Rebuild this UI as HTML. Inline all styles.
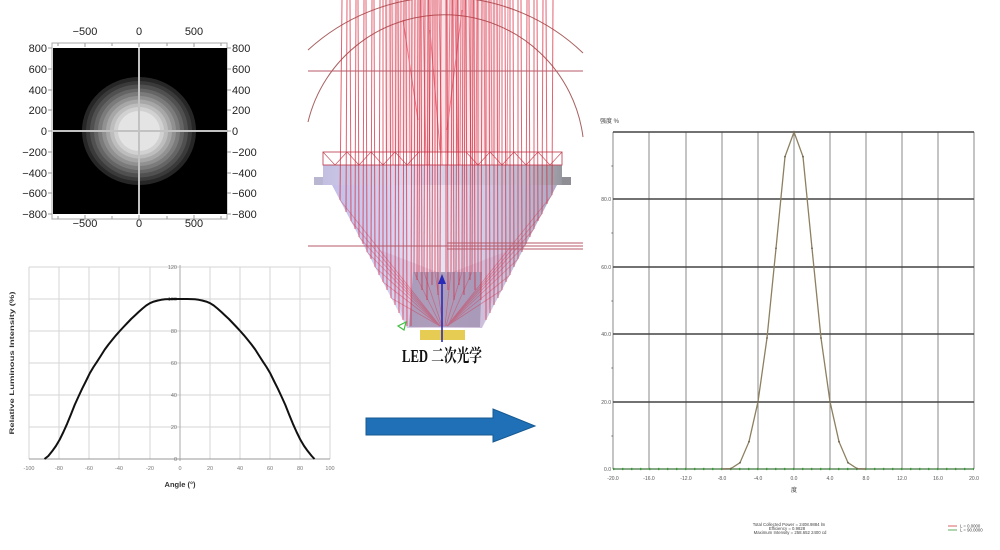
<!DOCTYPE html>
<html><head><meta charset="utf-8"><style>
html,body{margin:0;padding:0;background:#fff;}
svg{display:block;}
text{font-family:"Liberation Sans","Noto Sans CJK SC",sans-serif;}
</style></head><body>
<svg width="1000" height="550" viewBox="0 0 1000 550" xmlns="http://www.w3.org/2000/svg">
<defs>
<linearGradient id="lens" x1="0" x2="1" y1="0" y2="0">
<stop offset="0" stop-color="#bcb8e6"/>
<stop offset="0.3" stop-color="#d4d2f2"/>
<stop offset="0.45" stop-color="#ecebf8"/>
<stop offset="0.7" stop-color="#cac8e4"/>
<stop offset="1" stop-color="#a4a2bc"/>
</linearGradient>
<linearGradient id="flange" x1="0" x2="1" y1="0" y2="0">
<stop offset="0" stop-color="#c2bfe2"/>
<stop offset="0.4" stop-color="#dcdaf0"/>
<stop offset="0.85" stop-color="#bcbad0"/>
<stop offset="1" stop-color="#96969e"/>
</linearGradient>
</defs>

<!-- ================= HEATMAP ================= -->
<rect x="52" y="43" width="175" height="176" fill="none" stroke="#aaa" stroke-width="1"/>
<rect x="53" y="48" width="174" height="166" fill="#000"/>
<g>
<ellipse cx="139" cy="131" rx="57" ry="54" fill="#262626"/>
<ellipse cx="139" cy="131" rx="53" ry="50" fill="#3a3a3a"/>
<ellipse cx="139" cy="131" rx="49" ry="46.5" fill="#505050"/>
<ellipse cx="139" cy="131" rx="45" ry="42.5" fill="#656565"/>
<ellipse cx="139" cy="131" rx="41" ry="39" fill="#7b7b7b"/>
<ellipse cx="139" cy="131" rx="37" ry="35" fill="#919191"/>
<ellipse cx="139" cy="131" rx="33" ry="31.5" fill="#a7a7a7"/>
<ellipse cx="139" cy="131" rx="29" ry="27.5" fill="#bdbdbd"/>
<ellipse cx="139" cy="131" rx="25" ry="24" fill="#d1d1d1"/>
<ellipse cx="139" cy="131" rx="21" ry="20" fill="#e4e4e4"/>
</g>
<line x1="139" y1="48" x2="139" y2="214" stroke="#c2c2c2" stroke-width="2"/>
<line x1="53" y1="131" x2="227" y2="131" stroke="#c2c2c2" stroke-width="2"/>
<g stroke="#999" stroke-width="1">
<line x1="58" y1="43" x2="58" y2="46"/><line x1="85" y1="43" x2="85" y2="47"/><line x1="112" y1="43" x2="112" y2="46"/>
<line x1="139" y1="43" x2="139" y2="47"/><line x1="167" y1="43" x2="167" y2="46"/><line x1="194" y1="43" x2="194" y2="47"/><line x1="221" y1="43" x2="221" y2="46"/>
<line x1="58" y1="219" x2="58" y2="216"/><line x1="85" y1="219" x2="85" y2="215"/><line x1="112" y1="219" x2="112" y2="216"/>
<line x1="139" y1="219" x2="139" y2="215"/><line x1="167" y1="219" x2="167" y2="216"/><line x1="194" y1="219" x2="194" y2="215"/><line x1="221" y1="219" x2="221" y2="216"/>
<line x1="48" y1="48" x2="52" y2="48"/><line x1="48" y1="69" x2="52" y2="69"/><line x1="48" y1="90" x2="52" y2="90"/><line x1="48" y1="110" x2="52" y2="110"/><line x1="48" y1="131" x2="52" y2="131"/><line x1="48" y1="152" x2="52" y2="152"/><line x1="48" y1="173" x2="52" y2="173"/><line x1="48" y1="193" x2="52" y2="193"/><line x1="48" y1="214" x2="52" y2="214"/>
<line x1="227" y1="48" x2="231" y2="48"/><line x1="227" y1="69" x2="231" y2="69"/><line x1="227" y1="90" x2="231" y2="90"/><line x1="227" y1="110" x2="231" y2="110"/><line x1="227" y1="131" x2="231" y2="131"/><line x1="227" y1="152" x2="231" y2="152"/><line x1="227" y1="173" x2="231" y2="173"/><line x1="227" y1="193" x2="231" y2="193"/><line x1="227" y1="214" x2="231" y2="214"/>
</g>
<g font-size="11" fill="#222" text-anchor="middle">
<text x="85" y="35">−500</text><text x="139" y="35">0</text><text x="194" y="35">500</text>
<text x="85" y="227">−500</text><text x="139" y="227">0</text><text x="194" y="227">500</text>
</g>
<g font-size="11" fill="#222" text-anchor="end">
<text x="47" y="52">800</text><text x="47" y="73">600</text><text x="47" y="94">400</text><text x="47" y="114">200</text><text x="47" y="135">0</text>
<text x="47" y="156">−200</text><text x="47" y="177">−400</text><text x="47" y="197">−600</text><text x="47" y="218">−800</text>
</g>
<g font-size="11" fill="#222" text-anchor="start">
<text x="232" y="52">800</text><text x="232" y="73">600</text><text x="232" y="94">400</text><text x="232" y="114">200</text><text x="232" y="135">0</text>
<text x="232" y="156">−200</text><text x="232" y="177">−400</text><text x="232" y="197">−600</text><text x="232" y="218">−800</text>
</g>

<!-- ================= BOTTOM-LEFT CHART ================= -->
<g stroke="#d6d6d6" stroke-width="1">
<line x1="29" y1="267" x2="330" y2="267"/><line x1="29" y1="299" x2="330" y2="299"/><line x1="29" y1="331" x2="330" y2="331"/>
<line x1="29" y1="363" x2="330" y2="363"/><line x1="29" y1="395" x2="330" y2="395"/><line x1="29" y1="427" x2="330" y2="427"/>
<line x1="29" y1="267" x2="29" y2="459"/><line x1="59" y1="267" x2="59" y2="459"/><line x1="89" y1="267" x2="89" y2="459"/>
<line x1="119" y1="267" x2="119" y2="459"/><line x1="150" y1="267" x2="150" y2="459"/><line x1="210" y1="267" x2="210" y2="459"/>
<line x1="240" y1="267" x2="240" y2="459"/><line x1="270" y1="267" x2="270" y2="459"/><line x1="300" y1="267" x2="300" y2="459"/><line x1="330" y1="267" x2="330" y2="459"/>
</g>
<line x1="180" y1="265" x2="180" y2="461" stroke="#aaa" stroke-width="1"/>
<line x1="29" y1="459" x2="330" y2="459" stroke="#999" stroke-width="1"/>
<g font-size="5.5" fill="#777" text-anchor="end">
<text x="177" y="269">120</text><text x="177" y="301">100</text><text x="177" y="333">80</text><text x="177" y="365">60</text>
<text x="177" y="397">40</text><text x="177" y="429">20</text><text x="177" y="461">0</text>
</g>
<g font-size="5.5" fill="#777" text-anchor="middle">
<text x="29" y="470">-100</text><text x="59" y="470">-80</text><text x="89" y="470">-60</text><text x="119" y="470">-40</text><text x="150" y="470">-20</text>
<text x="180" y="470">0</text><text x="210" y="470">20</text><text x="240" y="470">40</text><text x="270" y="470">60</text><text x="300" y="470">80</text><text x="330" y="470">100</text>
</g>
<text x="180" y="487" font-size="7.5" font-weight="bold" fill="#333" text-anchor="middle">Angle (°)</text>
<text x="0" y="0" font-size="6.5" font-weight="bold" fill="#333" text-anchor="middle" transform="translate(14,363) rotate(-90)" textLength="143" lengthAdjust="spacingAndGlyphs">Relative Luminous Intensity (%)</text>
<polyline fill="none" stroke="#111" stroke-width="2" stroke-linejoin="round" points="44.5,459 48.3,456 52.1,451.3 55.9,446 59.6,439.8 63.4,432 67.1,423.8 70.9,414.5 74.7,404.9 78.5,396.5 82.2,388.6 86,381 89.7,373.4 93.5,367 97.2,361.4 101,355.5 104.7,349.6 108.5,344.5 112.3,339.8 116,335.3 119.8,331 123.5,327 127.3,323 131.1,319 134.9,315.5 138.6,312 142.4,308.6 146.2,305.5 149.9,303.2 153.7,301.6 157.4,300.6 161.2,299.8 165,299.3 172.5,299 180,299 187.5,299 195,299.3 198.8,299.8 202.6,300.6 206.3,301.6 210.1,303.2 213.8,305.5 217.6,308.6 221.4,312 225.1,315.5 228.9,319 232.7,323 236.5,327 240.2,331 244,335.3 247.7,339.8 251.5,344.5 255.3,349.6 259,355.5 262.8,361.4 266.5,367 270.3,373.4 274,381 277.8,388.6 281.5,396.5 285.3,404.9 289.1,414.5 292.9,423.8 296.6,432 300.4,439.8 304.1,446 307.9,451.3 311.7,456 314.5,459"/>

<!-- ================= OPTICAL DIAGRAM ================= -->
<rect x="385" y="0" width="115" height="152" fill="#f2c4cc" opacity="0.45"/>
<g fill="none" stroke="#a86060" stroke-width="1">
<path d="M308,50 A201,201 0 0 1 583,53"/>
<path d="M308,122 A140,140 0 0 1 583,137"/>
</g>
<polygon points="323,165 562,165 562,177 571,177 571,185 557,185 482,328 407,328 332,185 314,185 314,177 323,177" fill="url(#lens)"/>
<rect x="323" y="165" width="239" height="20" fill="url(#flange)"/>
<rect x="314" y="177" width="9" height="8" fill="#b8b6d0"/>
<rect x="562" y="177" width="9" height="8" fill="#8e8e94"/>
<polygon points="380,250 407,328 482,328 510,250 445,275" fill="#c890b8" opacity="0.25"/>
<polygon points="413,272 482,272 480,327 409,327" fill="#a090b0" opacity="0.8"/>
<rect x="323" y="152" width="239" height="13" fill="none" stroke="#c04a58" stroke-width="0.9"/>
<g stroke="#c04a58" stroke-width="0.6" fill="none">
<path d="M323,152 L335,165 M347,152 L335,165 M347,152 L359,165 M371,152 L359,165 M371,152 L383,165 M395,152 L383,165 M395,152 L407,165 M419,152 L407,165 M466,152 L478,165 M490,152 L478,165 M490,152 L502,165 M514,152 L502,165 M514,152 L526,165 M538,152 L526,165 M538,152 L550,165 M562,152 L550,165"/>
</g>
<g fill="none" stroke="#d6283c" stroke-width="1" opacity="0.72">
<polyline points="342,0 340,200"/>
<polyline points="347,0 346,212"/>
<polyline points="350,0 351,221"/>
<polyline points="356,0 355,229"/>
<polyline points="358,0 359,237"/>
<polyline points="364,0 363,244"/>
<polyline points="366,0 367,252"/>
<polyline points="372,0 371,259"/>
<polyline points="374,0 375,267"/>
<polyline points="380,0 379,275"/>
<polyline points="383,0 383,282"/>
<polyline points="386,0 387,290"/>
<polyline points="390,0 391,298"/>
<polyline points="396,0 395,305"/>
<polyline points="398,0 399,313"/>
<polyline points="404,0 403,320"/>
<polyline points="406,0 407,326"/>
<polyline points="412,0 411,326"/>
<polyline points="553,0 552,195"/>
<polyline points="546,0 547,204"/>
<polyline points="543,0 542,214"/>
<polyline points="537,0 538,221"/>
<polyline points="534,0 534,229"/>
<polyline points="529,0 530,237"/>
<polyline points="527,0 526,244"/>
<polyline points="521,0 522,252"/>
<polyline points="518,0 518,259"/>
<polyline points="513,0 514,267"/>
<polyline points="510,0 510,275"/>
<polyline points="505,0 506,282"/>
<polyline points="502,0 502,290"/>
<polyline points="497,0 498,298"/>
<polyline points="494,0 494,305"/>
<polyline points="489,0 490,313"/>
<polyline points="486,0 486,320"/>
<polyline points="415,0 414,272"/>
<polyline points="418,0 417,280"/>
<polyline points="420,0 419,272"/>
<polyline points="421,0 422,290"/>
<polyline points="425,0 424,272"/>
<polyline points="428,0 427,300"/>
<polyline points="429,0 430,272"/>
<polyline points="433,0 432,285"/>
<polyline points="435,0 435,272"/>
<polyline points="437,0 438,295"/>
<polyline points="441,0 440,272"/>
<polyline points="446,0 446,272"/>
<polyline points="447,0 448,290"/>
<polyline points="452,0 451,272"/>
<polyline points="453,0 454,300"/>
<polyline points="457,0 456,272"/>
<polyline points="458,0 459,285"/>
<polyline points="463,0 462,272"/>
<polyline points="465,0 464,295"/>
<polyline points="466,0 467,272"/>
<polyline points="471,0 470,280"/>
<polyline points="473,0 472,272"/>
<polyline points="474,0 475,290"/>
<polyline points="478,0 478,272"/>
<polyline points="482,0 481,300"/>
</g>
<g fill="none" stroke="#d6283c" stroke-width="0.8" opacity="0.4">
<line x1="340" y1="200" x2="440" y2="326"/>
<line x1="351" y1="221" x2="440" y2="326"/>
<line x1="359" y1="237" x2="440" y2="326"/>
<line x1="367" y1="252" x2="440" y2="326"/>
<line x1="375" y1="267" x2="440" y2="326"/>
<line x1="383" y1="282" x2="440" y2="326"/>
<line x1="391" y1="298" x2="440" y2="326"/>
<line x1="552" y1="195" x2="447" y2="326"/>
<line x1="542" y1="214" x2="447" y2="326"/>
<line x1="534" y1="229" x2="447" y2="326"/>
<line x1="526" y1="244" x2="447" y2="326"/>
<line x1="518" y1="259" x2="447" y2="326"/>
<line x1="510" y1="275" x2="447" y2="326"/>
<line x1="502" y1="290" x2="447" y2="326"/>
<line x1="414" y1="272" x2="441" y2="326"/>
<line x1="424" y1="272" x2="442" y2="326"/>
<line x1="435" y1="272" x2="443" y2="326"/>
<line x1="451" y1="272" x2="445" y2="326"/>
<line x1="462" y1="272" x2="446" y2="326"/>
<line x1="472" y1="272" x2="448" y2="326"/>
</g>
<g fill="none" stroke="#e0203a" stroke-width="1" opacity="0.55">
<line x1="392" y1="0" x2="393" y2="165"/><line x1="401" y1="0" x2="400" y2="165"/><line x1="409" y1="0" x2="410" y2="165"/>
<line x1="423" y1="0" x2="426" y2="165"/><line x1="431" y1="0" x2="429" y2="165"/><line x1="439" y1="0" x2="442" y2="165"/>
<line x1="450" y1="0" x2="448" y2="165"/><line x1="455" y1="0" x2="458" y2="165"/><line x1="461" y1="0" x2="460" y2="165"/>
<line x1="469" y1="0" x2="471" y2="165"/><line x1="477" y1="0" x2="476" y2="165"/><line x1="484" y1="0" x2="485" y2="165"/>
<line x1="491" y1="0" x2="492" y2="165"/><line x1="500" y1="0" x2="499" y2="165"/><line x1="508" y1="0" x2="507" y2="165"/>
<line x1="403" y1="20" x2="418" y2="120"/><line x1="462" y1="10" x2="447" y2="130"/><line x1="430" y1="30" x2="440" y2="150"/>
</g>
<g stroke="#b85a68" stroke-width="1">
<line x1="308" y1="71" x2="583" y2="71"/>
<line x1="308" y1="246" x2="583" y2="246"/>
<line x1="447" y1="243" x2="583" y2="243"/>
<line x1="447" y1="249" x2="583" y2="249"/>
</g>
<rect x="420" y="330" width="45" height="10" fill="#e6cc52"/>
<line x1="442" y1="342" x2="442" y2="282" stroke="#2a2ab8" stroke-width="1.6"/>
<polygon points="442,274 438,284 446,284" fill="#2a2ab8"/>
<path d="M398,326 L406,322 L404,330 Z" fill="none" stroke="#40c040" stroke-width="1.2"/>
<text x="442" y="362" font-size="18" font-weight="bold" fill="#111" text-anchor="middle" textLength="80" lengthAdjust="spacingAndGlyphs" style="font-family:'Liberation Serif','Noto Serif CJK SC',serif;">LED 二次光学</text>

<polygon points="366,418 493,418 493,409 535,426 493,442 493,435 366,435" fill="#1f70b6" stroke="#185a92" stroke-width="1"/>

<!-- ================= RIGHT CHART ================= -->
<g stroke="#8a8a8a" stroke-width="1">
<line x1="613" y1="132" x2="613" y2="469"/><line x1="649" y1="132" x2="649" y2="469"/><line x1="686" y1="132" x2="686" y2="469"/>
<line x1="722" y1="132" x2="722" y2="469"/><line x1="758" y1="132" x2="758" y2="469"/><line x1="794" y1="132" x2="794" y2="469"/>
<line x1="830" y1="132" x2="830" y2="469"/><line x1="866" y1="132" x2="866" y2="469"/><line x1="902" y1="132" x2="902" y2="469"/>
<line x1="938" y1="132" x2="938" y2="469"/><line x1="974" y1="132" x2="974" y2="469"/>
</g>
<g stroke="#444" stroke-width="1.4">
<line x1="613" y1="132" x2="974" y2="132"/><line x1="613" y1="199" x2="974" y2="199"/><line x1="613" y1="267" x2="974" y2="267"/>
<line x1="613" y1="334" x2="974" y2="334"/><line x1="613" y1="402" x2="974" y2="402"/><line x1="613" y1="469" x2="974" y2="469"/>
</g>
<line x1="613" y1="469" x2="974" y2="469" stroke="#6cb46c" stroke-width="1"/>
<line x1="613" y1="469" x2="974" y2="469" stroke="#3a9a3a" stroke-width="2.2" stroke-dasharray="1.4 7.6"/>
<polyline fill="none" stroke="#8c8060" stroke-width="1.3" points="722,469 731,468.5 740,462.7 749,441.7 758,401.7 767,338 776,248.3 785,156.7 794,132 803,156.7 812,248.3 821,338 830,401.7 839,441.7 848,462.7 857,468.5 866,469"/>
<g fill="#6a6050">
<circle cx="731" cy="468.5" r="0.9"/><circle cx="740" cy="462.7" r="0.9"/><circle cx="749" cy="441.7" r="0.9"/><circle cx="758" cy="401.7" r="0.9"/>
<circle cx="767" cy="338" r="0.9"/><circle cx="776" cy="248.3" r="0.9"/><circle cx="785" cy="156.7" r="0.9"/><circle cx="794" cy="132" r="0.9"/>
<circle cx="803" cy="156.7" r="0.9"/><circle cx="812" cy="248.3" r="0.9"/><circle cx="821" cy="338" r="0.9"/><circle cx="830" cy="401.7" r="0.9"/>
<circle cx="839" cy="441.7" r="0.9"/><circle cx="848" cy="462.7" r="0.9"/><circle cx="857" cy="468.5" r="0.9"/>
</g>
<g fill="#666">
<circle cx="612" cy="166" r="0.6"/><circle cx="612" cy="233" r="0.6"/><circle cx="612" cy="301" r="0.6"/><circle cx="612" cy="368" r="0.6"/><circle cx="612" cy="436" r="0.6"/>
</g>
<text x="600" y="123" font-size="6" fill="#444">强度 %</text>
<g font-size="5" fill="#555" text-anchor="end">
<text x="611" y="201">80.0</text><text x="611" y="269">60.0</text><text x="611" y="336">40.0</text><text x="611" y="404">20.0</text><text x="611" y="471">0.0</text>
</g>
<g font-size="5" fill="#555" text-anchor="middle">
<text x="613" y="480">-20.0</text><text x="649" y="480">-16.0</text><text x="686" y="480">-12.0</text><text x="722" y="480">-8.0</text><text x="758" y="480">-4.0</text>
<text x="794" y="480">0.0</text><text x="830" y="480">4.0</text><text x="866" y="480">8.0</text><text x="902" y="480">12.0</text><text x="938" y="480">16.0</text><text x="974" y="480">20.0</text>
</g>
<text x="794" y="492" font-size="6" fill="#444" text-anchor="middle">度</text>

<g font-size="4.3" fill="#444" text-anchor="middle">
<text x="789" y="526">Total Collected Power = 2408.9884  lm</text>
<text x="787" y="530">Efficiency = 0.9828</text>
<text x="790" y="534">Maximum Intensity = 258.652 2400  cd</text>
</g>
<line x1="948" y1="526" x2="957" y2="526" stroke="#d04040" stroke-width="0.8"/>
<line x1="948" y1="530" x2="957" y2="530" stroke="#3a9a3a" stroke-width="0.8"/>
<g font-size="4.3" fill="#444">
<text x="960" y="527.5">L = 0.0000</text>
<text x="960" y="531.5">L = 90.0000</text>
</g>
</svg>
</body></html>
